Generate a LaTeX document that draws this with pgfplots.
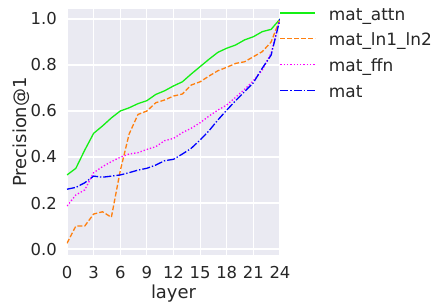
\documentclass[border=0pt]{standalone}
\usepackage{pgfplots}
\pgfplotsset{compat=1.18}
\usepackage{fontspec}
\setmainfont{DejaVu Sans}
\definecolor{bgc}{RGB}{234,234,242}
\definecolor{labc}{RGB}{38,38,38}
\definecolor{cattn}{RGB}{20,240,20}
\definecolor{cln}{RGB}{255,127,14}
\definecolor{cffn}{RGB}{255,0,255}
\definecolor{cmat}{RGB}{0,0,255}
\tikzset{
 sattn/.style={cattn, solid, line width=1.3bp},
 sln/.style={cln, line width=1.3bp, dash pattern=on 4.8bp off 2.2bp},
 sffn/.style={cffn, line width=1.3bp, dash pattern=on 1.3bp off 2bp},
 smat/.style={cmat, line width=1.3bp, dash pattern=on 8bp off 2bp on 1.3bp off 2bp},
}
\newcommand{\lent}[1]{\textcolor{labc}{\rule{0pt}{16bp}#1}}
\begin{document}
\begin{tikzpicture}
\useasboundingbox (-67bp,-49bp) rectangle (369bp,255bp);
\begin{axis}[
 scale only axis, width=213bp, height=246bp,
 xmin=0, xmax=24, ymin=-0.026, ymax=1.0435,
 xtick={0,3,...,24}, ytick={0,0.2,0.4,0.6,0.8,1.0},
 axis background/.style={fill=bgc},
 axis line style={draw=none},
 grid=major, major grid style={white, line width=1.2bp},
 major tick length=0pt, tick style={draw=none},
 /pgf/number format/assume math mode=true,
 yticklabel style={/pgf/number format/fixed, /pgf/number format/fixed zerofill, /pgf/number format/precision=1},
 ticklabel style={font=\fontsize{16.5}{16.5}\selectfont, text=labc},
 xticklabel style={inner sep=0pt, anchor=north, yshift=-11bp},
 yticklabel style={inner sep=0pt, anchor=east, xshift=-10bp},
 xlabel={layer}, ylabel={Precision@1},
 label style={font=\fontsize{18}{18}\selectfont, text=labc, inner sep=0pt},
 xlabel style={at={(axis description cs:0.5,-0.1776)}, anchor=base},
 ylabel style={at={(axis description cs:-0.1901,0.5)}, anchor=base},
 legend style={at={(axis description cs:1,1)}, anchor=north west, xshift=-0.5bp, yshift=7bp,
   draw=white, fill=white, inner sep=0pt,
   font=\fontsize{17}{17}\selectfont, row sep=4.3bp, column sep=11bp},
 legend cell align=left,
]
\addplot[sattn, legend image code/.code={\draw[sattn] (0bp,0bp) -- (35bp,0bp);}] coordinates {
(0,0.322)(1,0.351)(2,0.43)(3,0.503)(4,0.535)(5,0.57)(6,0.60)(7,0.614)(8,0.632)
(9,0.645)(10,0.672)(11,0.688)(12,0.709)(13,0.727)(14,0.761)(15,0.793)(16,0.825)
(17,0.855)(18,0.873)(19,0.887)(20,0.909)(21,0.923)(22,0.945)(23,0.955)(24,1.0)};
\addlegendentry{\lent{mat\_attn}}
\addplot[sln, legend image code/.code={\draw[sln] (0bp,0bp) -- (35bp,0bp);}] coordinates {
(0,0.025)(1,0.10)(2,0.10)(3,0.152)(4,0.162)(5,0.138)(6,0.34)(7,0.50)(8,0.585)
(9,0.60)(10,0.636)(11,0.648)(12,0.665)(13,0.674)(14,0.713)(15,0.727)(16,0.752)
(17,0.775)(18,0.79)(19,0.807)(20,0.814)(21,0.836)(22,0.858)(23,0.90)(24,1.0)};
\addlegendentry{\lent{mat\_ln1\_ln2}}
\addplot[sffn, legend image code/.code={\draw[sffn] (0bp,0bp) -- (35bp,0bp);}] coordinates {
(0,0.187)(1,0.235)(2,0.257)(3,0.332)(4,0.358)(5,0.38)(6,0.399)(7,0.413)(8,0.419)
(9,0.433)(10,0.445)(11,0.471)(12,0.481)(13,0.506)(14,0.525)(15,0.549)(16,0.578)
(17,0.604)(18,0.626)(19,0.66)(20,0.694)(21,0.732)(22,0.778)(23,0.851)(24,1.0)};
\addlegendentry{\lent{mat\_ffn}}
\addplot[smat, legend image code/.code={\draw[smat] (0bp,0bp) -- (35bp,0bp);}] coordinates {
(0,0.26)(1,0.268)(2,0.288)(3,0.317)(4,0.312)(5,0.317)(6,0.322)(7,0.332)(8,0.343)
(9,0.351)(10,0.365)(11,0.384)(12,0.39)(13,0.413)(14,0.438)(15,0.474)(16,0.514)
(17,0.561)(18,0.604)(19,0.645)(20,0.684)(21,0.723)(22,0.786)(23,0.843)(24,1.0)};
\addlegendentry{\lent{mat}}
\end{axis}
\end{tikzpicture}
\end{document}
